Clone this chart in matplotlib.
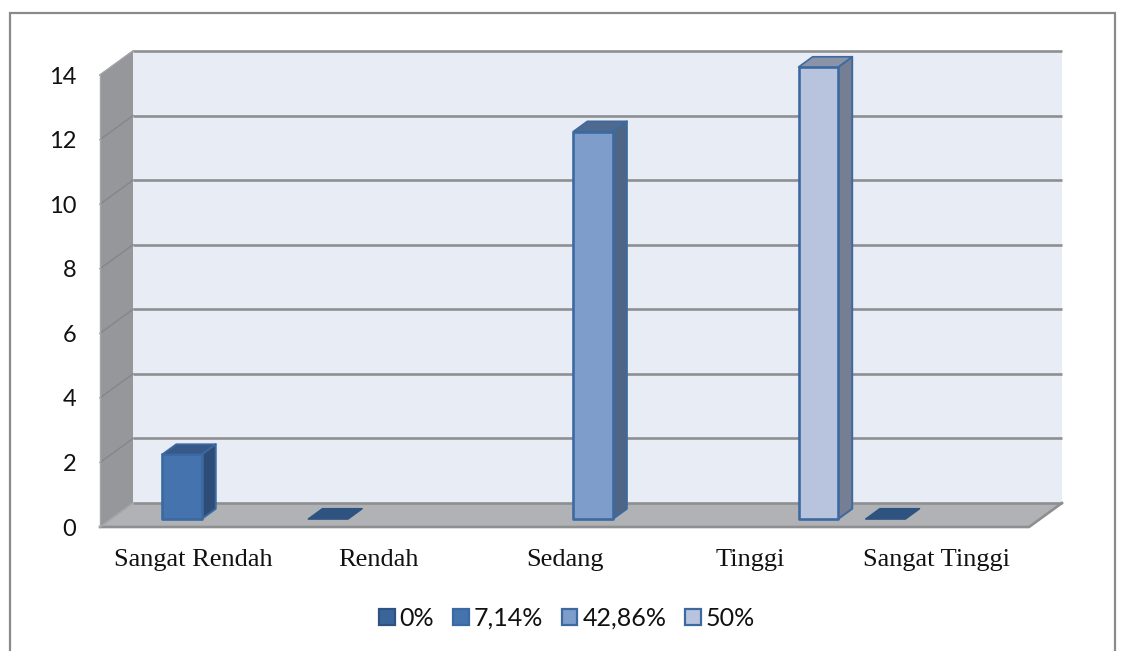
import matplotlib
matplotlib.use("Agg")
import matplotlib.pyplot as plt
from matplotlib.patches import Polygon, Patch
from matplotlib.lines import Line2D

categories = ["Sangat Rendah", "Rendah", "Sedang", "Tinggi", "Sangat Tinggi"]
series_names = ["0%", "7,14%", "42,86%", "50%"]
values_0 = [None, 0, None, None, 0]
values_1 = [2, None, None, None, None]
values_2 = [None, None, 12, None, None]
values_3 = [None, None, None, 14, None]
y_ticks = [0, 2, 4, 6, 8, 10, 12, 14]

W, H = 1123, 651
fig = plt.figure(figsize=(W / 100, H / 100), dpi=100, facecolor="white")
ax = fig.add_axes([100 / W, (H - 527) / H, 929 / W, 452 / H])
ax.set_xlim(0, len(categories))
ax.set_ylim(0, y_ticks[-1])
ax.patch.set_visible(False)
for s in ax.spines.values():
    s.set_visible(False)

# 3D depth, expressed in axis units
DX = 33 / (929 / 5)
DY = 24 / (452 / 14)


def P(x, y, z=0.0):
    return (x + z * DX, y + z * DY)


def poly(pts, fc, ec="none", lw=0, zo=1):
    ax.add_patch(Polygon(pts, closed=True, facecolor=fc, edgecolor=ec, linewidth=lw,
                         zorder=zo, clip_on=False, joinstyle="round"))


nx, top = len(categories), y_ticks[-1]
GRID = "#8e8f91"
poly([P(0, 0, 1), P(nx, 0, 1), P(nx, top, 1), P(0, top, 1)], "#e8ecf5", zo=1)
poly([P(0, 0, 0), P(0, 0, 1), P(0, top, 1), P(0, top, 0)], "#96979a", zo=1)
poly([P(0, 0, 0), P(nx, 0, 0), P(nx, 0, 1), P(0, 0, 1)], "#b0b2b5", zo=1)

for v in y_ticks:
    x0, y0 = P(0, v, 1)
    x1, y1 = P(nx, v, 1)
    ax.plot([x0, x1], [y0, y1], color=GRID, lw=1.9, zorder=2, clip_on=False,
            solid_capstyle="butt")
    if v > 0:
        xa, ya = P(0, v, 0)
        ax.plot([xa, x0], [ya, y0], color="#85868a", lw=1.0, zorder=2, clip_on=False)
# floor and wall edges
ax.plot(*zip(P(0, 0, 0), P(nx, 0, 0), P(nx, 0, 1)), color=GRID, lw=1.9, zorder=2, clip_on=False)
ax.plot(*zip(P(0, 0, 0), P(0, 0, 1)), color="#a5a6a9", lw=1.2, zorder=2, clip_on=False)
ax.plot(*zip(P(0, top, 0), P(0, top, 1)), color="#a5a6a9", lw=1.0, zorder=2, clip_on=False)
ax.plot(*zip(P(0, 0, 0), P(0, top, 0)), color="#a5a6a9", lw=1.0, zorder=2, clip_on=False)

# bars: (front, side, top, edge) shades per series
shades = [
    ("#3a659b", "#2b4a74", "#2f5380", "#2f5380"),
    ("#4573ae", "#2e4c78", "#36598a", "#3b69a1"),
    ("#7f9dcb", "#4f6585", "#4f6a90", "#3c6aa0"),
    ("#b8c4de", "#767e94", "#8a93a8", "#3c6aa0"),
]
all_series = [values_0, values_1, values_2, values_3]
bw = 1 / 4.7
gap = (1 - 4 * bw) / 2 - 0.012
Z0, Z1 = 1 / 3, 0.76
for i, vals in enumerate(all_series):
    fc, sc, tc, ec = shades[i]
    for c, v in enumerate(vals):
        if v is None:
            continue
        xl = c + gap + i * bw
        xr = xl + bw
        zo = 3 + c
        if v > 0:
            poly([P(xr, 0, Z0), P(xr, 0, Z1), P(xr, v, Z1), P(xr, v, Z0)], sc, ec, 1.4, zo)
            poly([P(xl, 0, Z0), P(xr, 0, Z0), P(xr, v, Z0), P(xl, v, Z0)], fc, ec, 1.9, zo)
        poly([P(xl, v, Z0), P(xr, v, Z0), P(xr, v, Z1), P(xl, v, Z1)], tc, ec, 1.2, zo)

# axes text
ax.set_xticks([c + 0.5 for c in range(nx)])
ax.set_xticklabels(categories, family="Liberation Serif", fontsize=19, color="#111111")
ax.set_yticks(y_ticks)
ax.set_yticklabels([str(v) for v in y_ticks], family="Lato", fontsize=17, color="#111111")
ax.tick_params(axis="x", length=0, pad=16)
ax.tick_params(axis="y", length=0, pad=17)

# legend
handles = [Patch(facecolor=s[0], edgecolor=s[3], linewidth=1.6) for s in shades]
fig.legend(handles, series_names, loc="center", bbox_to_anchor=(567 / W, (H - 618) / H),
           ncol=4, frameon=False, prop={"family": "Lato", "size": 18},
           handlelength=0.62, handleheight=0.62, handletextpad=0.2, columnspacing=0.75,
           labelcolor="#111111", borderpad=0)

# chart border, cut by the bottom of the image
bx0, bx1, by = 10 / W, 1115 / W, (H - 13) / H
fig.add_artist(Line2D([bx0, bx0, bx1, bx1], [0, by, by, 0], transform=fig.transFigure,
                      color="#8a8a8a", lw=1.6, solid_joinstyle="miter"))

fig.savefig("out.png", dpi=100)
